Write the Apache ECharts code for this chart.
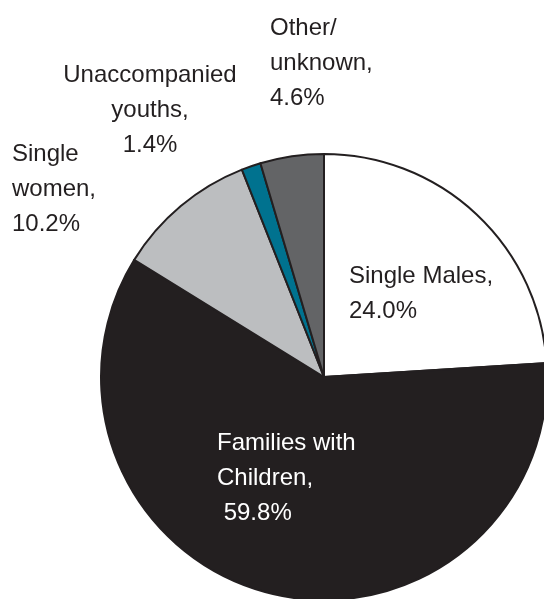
<!DOCTYPE html>
<html>
<head>
<meta charset="utf-8">
<script src="https://cdn.jsdelivr.net/npm/echarts@6/dist/echarts.min.js"></script>
<style>
  html, body { margin: 0; padding: 0; background: #fff; }
  #chart { width: 544px; height: 599px; }
</style>
</head>
<body>
<div id="chart"></div>
<script>
// slices, clockwise from 12 o'clock
const categories = ['Single Males', 'Families with Children', 'Single women', 'Unaccompanied youths', 'Other/unknown'];
const shares = [24.0, 59.8, 10.2, 1.4, 4.6];
const labelTexts = [
  'Single Males,\n24.0%',
  'Families with\nChildren,\n 59.8%',
  'Single\nwomen,\n10.2%',
  'Unaccompanied\nyouths,\n1.4%',
  'Other/\nunknown,\n4.6%'
];
const sliceColors = ['#ffffff', '#231f20', '#bcbec0', '#00728f', '#636466'];

// where each label sits
const labelSpots = [
  { x: 349, y: 294, align: 'left' },
  { x: 217, y: 478, align: 'left' },
  { x: 12, y: 189, align: 'left' },
  { x: 150, y: 110, align: 'center' },
  { x: 270, y: 63, align: 'left' }
];

const myChart = echarts.init(document.getElementById('chart'));

const option = {
  animation: false,
  series: [{
    type: 'pie',
    center: [324, 377],
    radius: 223,
    startAngle: 90,
    clockwise: true,
    avoidLabelOverlap: false,
    data: categories.map((name, i) => ({
      name: name,
      value: shares[i],
      itemStyle: { color: sliceColors[i] },
      label: { color: i === 1 ? '#ffffff' : '#231f20' }
    })),
    itemStyle: {
      borderColor: '#231f20',
      borderWidth: 2
    },
    label: {
      show: true,
      position: 'outside',
      formatter: p => labelTexts[p.dataIndex],
      fontFamily: '"Liberation Sans", Arial, sans-serif',
      fontSize: 24,
      lineHeight: 35
    },
    labelLine: { show: false },
    labelLayout: p => {
      const s = labelSpots[p.dataIndex];
      return { x: s.x, y: s.y, align: s.align, verticalAlign: 'middle' };
    },
    emphasis: { disabled: true }
  }]
};

myChart.setOption(option);
</script>
</body>
</html>
